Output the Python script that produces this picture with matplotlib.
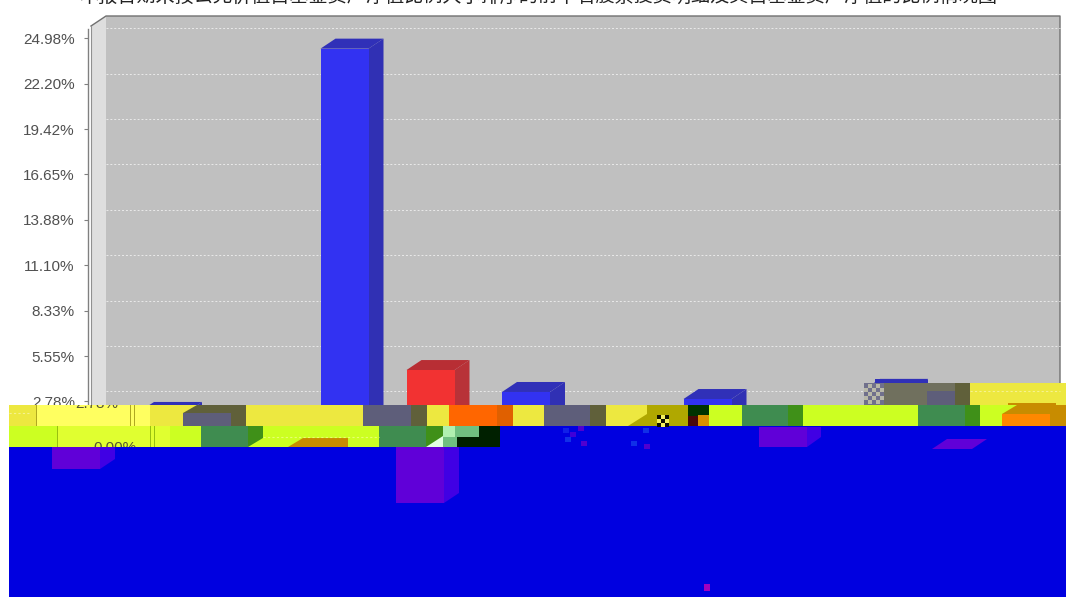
import matplotlib
matplotlib.use("Agg")
import matplotlib.pyplot as plt
from matplotlib.patches import Polygon, Rectangle

plt.rcParams['font.family'] = ['Liberation Sans', 'Noto Sans CJK SC', 'DejaVu Sans']

# ---------- data ----------
title = "本报告期末按公允价值占基金资产净值比例大小排序的前十名股票投资明细及其占基金资产净值的比例情况图"
groups = [0, 1, 2, 3, 4]
series_a = [2.14, 24.33, 3.36, 2.93, 3.55]
series_b_groups = [1]
series_b = [4.70]
ticks = [0.00, 2.78, 5.55, 8.33, 11.10, 13.88, 16.65, 19.42, 22.20, 24.98]
tick_labels = ["0.00%", "2.78%", "5.55%", "8.33%", "11.10%", "13.88%", "16.65%", "19.42%", "22.20%", "24.98%"]

# ---------- layout ----------
W, H = 1066, 597
PX_X = 181.5
PX_Y = (447 - 38) / 24.98
DX, DY = 15 / PX_X, 10 / PX_Y
BAR_W = 48 / PX_X
B_SHIFT = 86 / PX_X
X0 = 139
AX_L, AX_R, AX_T, AX_B = 88, 1045, 38, 447
LABEL_SIZE = 11.0

fig = plt.figure(figsize=(W / 100, H / 100), dpi=100, facecolor='white')
ax = fig.add_axes([AX_L / W, 1 - AX_B / H, (AX_R - AX_L) / W, (AX_B - AX_T) / H])
ax.set_xlim((AX_L - X0) / PX_X, (AX_R - X0) / PX_X)
ax.set_ylim(0, 24.98)
ax.patch.set_alpha(0)
for s in ['top', 'right', 'bottom']:
    ax.spines[s].set_visible(False)
ax.spines['left'].set_color('#808080')
ax.spines['left'].set_linewidth(1.0)
ax.spines['left'].set_bounds(0, 24.98 + 0.55)
ax.set_xticks([])
ax.set_yticks(ticks)
ax.set_yticklabels(tick_labels, fontsize=LABEL_SIZE, color='#505050')
ax.tick_params(axis='y', length=3, width=0.8, color='#808080', pad=6.5)

xl, xr = ax.get_xlim()
wall_l = (91 - X0) / PX_X
wall_b = wall_l + DX
wall_r = xr + DX
ymax = 24.98 + 12 / PX_Y
# walls
ax.add_patch(Polygon([(wall_l, 0), (wall_b, DY), (wall_b, ymax + DY), (wall_l, ymax)],
                     closed=True, fc='#DEDEDE', ec='none', clip_on=False, zorder=1))
ax.add_patch(Rectangle((wall_b, DY), wall_r - wall_b, ymax, fc='#C0C0C0', ec='none',
                       clip_on=False, zorder=1))
ax.plot([wall_l, wall_b, wall_r, wall_r], [ymax, ymax + DY, ymax + DY, 1.0],
        color='#707070', lw=1.0, clip_on=False, zorder=2)
ax.plot([wall_l, wall_l], [0, ymax], color='#909090', lw=0.8, clip_on=False, zorder=2)
for t in ticks[1:]:
    ax.plot([wall_b, wall_r], [t + DY, t + DY], color='#EAEAEA', lw=0.7,
            dashes=(2, 2), clip_on=False, zorder=2)


def bar3d(x, v, front, side, top):
    w = BAR_W
    ax.add_patch(Polygon([(x + w, 0), (x + w + DX, DY), (x + w + DX, v + DY), (x + w, v)],
                         fc=side, ec='none', clip_on=False, zorder=3))
    ax.add_patch(Polygon([(x, v), (x + DX, v + DY), (x + w + DX, v + DY), (x + w, v)],
                         fc=top, ec='none', clip_on=False, zorder=3))
    ax.add_patch(Rectangle((x, 0), w, v, fc=front, ec='none', clip_on=False, zorder=4))


for g, v in zip(groups, series_a):
    bar3d(g, v, '#3232F2', '#3030B4', '#3030B8')
for g, v in zip(series_b_groups, series_b):
    bar3d(g + B_SHIFT, v, '#F23232', '#B83238', '#B82E34')

fig.text(538 / W, 1 - 2 / H, title, ha='center', va='baseline', fontsize=13.8,
         family=['Noto Sans CJK SC', 'DejaVu Sans'], color='#222222')

# ---------- damaged lower part of the picture, drawn in pixel coordinates ----------
ov = fig.add_axes([0, 0, 1, 1], zorder=10)
ov.set_xlim(0, W)
ov.set_ylim(H, 0)
ov.axis('off')
ov.patch.set_alpha(0)


def rect(x0, x1, y0, y1, c):
    ov.add_patch(Rectangle((x0, y0), x1 - x0, y1 - y0, fc=c, ec='none'))


def poly(pts, c):
    ov.add_patch(Polygon(pts, closed=True, fc=c, ec='none'))


YEL, LY = '#EDE840', '#FFFF60'
LIME, LL = '#CCFF22', '#E0FF30'
GRY, OLV = '#5E5E7A', '#60603A'
GRN, DGN = '#3F8C50', '#3F9018'
ORG, DOR, GLD = '#FF6600', '#E06000', '#C88C00'
BLU = '#0000E0'

rect(0, W, 447, H, BLU)
rect(500, W, 426, 447, BLU)
rect(0, 9, 404, H, 'white')

# upper-right fragment
rect(864, 884, 383, 405, '#70708C')
for i in range(5):
    for j in range(5):
        if (i + j) % 2:
            rect(864 + i * 4, 868 + i * 4, 384 + j * 4, 388 + j * 4, '#B8B8A8')
rect(884, 955, 383, 405, '#70705E')
rect(927, 955, 391, 405, GRY)
rect(955, 970, 383, 405, OLV)
rect(970, W, 383, 405, YEL)
rect(1008, 1056, 403, 405, GLD)
rect(875, 927, 379, 383, '#3030B8')
ov.plot([970, 1060], [391, 391], color='#F6F290', lw=0.8, dashes=(2, 2))

# first band
rect(9, 1066, 405, 426, YEL)
rect(36, 150, 405, 426, LY)
for x in (36, 130, 134):
    rect(x, x + 1, 405, 426, '#B0A820')
rect(183, 231, 413, 426, GRY)
poly([(183, 413), (197, 405), (246, 405), (231, 413)], OLV)
rect(231, 246, 405, 426, OLV)
rect(363, 411, 405, 426, GRY)
rect(411, 427, 405, 426, OLV)
rect(449, 497, 405, 426, ORG)
rect(497, 513, 405, 426, DOR)
rect(544, 590, 405, 426, GRY)
rect(590, 606, 405, 426, OLV)
poly([(628, 426), (647, 414), (647, 426)], '#B0A800')
rect(647, 688, 405, 426, '#B0A800')
for i in range(3):
    for j in range(3):
        c = '#101000' if (i + j) % 2 == 0 else '#F4F060'
        rect(657 + i * 4, 661 + i * 4, 415 + j * 4, 419 + j * 4, c)
rect(688, 709, 405, 416, '#003300')
rect(688, 703, 416, 426, '#4A0808')
rect(698, 710, 415, 426, '#D89000')
rect(709, 742, 405, 426, LIME)
rect(742, 788, 405, 426, GRN)
rect(788, 803, 405, 426, DGN)
rect(803, 918, 405, 426, LIME)
rect(918, 965, 405, 426, GRN)
rect(965, 980, 405, 426, DGN)
rect(980, W, 405, 426, LIME)
poly([(1002, 414), (1017, 405), (W, 405), (W, 414)], GLD)
rect(1002, 1050, 414, 426, '#FF8800')
rect(1050, W, 414, 426, GLD)

# second band
rect(9, 500, 426, 447, LIME)
rect(57, 170, 426, 447, LL)
for x in (57, 150, 154):
    rect(x, x + 1, 426, 447, '#98C010')
rect(201, 248, 426, 447, GRN)
poly([(248, 426), (263, 426), (263, 438), (248, 447)], DGN)
poly([(288, 447), (303, 438), (348, 438), (348, 447)], GLD)
rect(379, 426, 426, 447, GRN)
rect(426, 443, 426, 447, DGN)
poly([(426, 447), (443, 436), (443, 447)], '#E0FFE0')
rect(443, 455, 426, 437, '#B0F0B0')
rect(455, 479, 426, 437, '#70C080')
rect(443, 457, 437, 447, '#70C080')
rect(457, 500, 437, 447, '#002000')
rect(479, 500, 426, 437, '#002000')
ov.plot([9, 30], [413, 413], color='#F6F290', lw=0.8, dashes=(2, 2))
ov.plot([263, 379], [437, 437], color='#E8FF70', lw=0.8, dashes=(2, 2))

# stray blocks in the blue area
PUR, PS = '#6000D8', '#4000E4'
rect(52, 100, 447, 469, PUR)
poly([(100, 447), (115, 447), (115, 459), (100, 469)], PS)
rect(396, 444, 447, 503, PUR)
poly([(444, 447), (459, 447), (459, 493), (444, 503)], PS)
rect(759, 807, 427, 447, PUR)
poly([(807, 427), (821, 427), (821, 437), (807, 447)], PS)
poly([(932, 449), (947, 439), (987, 439), (972, 449)], PUR)
for x, y, c in [(563, 428, '#1020E8'), (570, 432, '#4000D8'), (565, 437, '#1030E8'), (578, 426, '#5000D0'),
                (581, 441, '#5000D0'), (631, 441, '#1030E8'), (643, 428, '#1030E8'), (644, 444, '#5000D0'),
                (704, 584, '#A000C0')]:
    rect(x, x + 6, y, y + 5 if y < 500 else y + 7, c)

# ghost tick labels inside the bands
for txt, x, y, box in [("2.78%", 118, 404, (9, 405, 300, 21)), ("0.00%", 137, 448, (9, 426, 300, 21))]:
    t = ov.text(x, y, txt, ha='right', va='center', fontsize=LABEL_SIZE, color='#555533')
    t.set_clip_on(True)
    t.set_clip_path(Rectangle(box[:2], box[2], box[3], transform=ov.transData))

fig.savefig('out.png', dpi=100, facecolor='white')
